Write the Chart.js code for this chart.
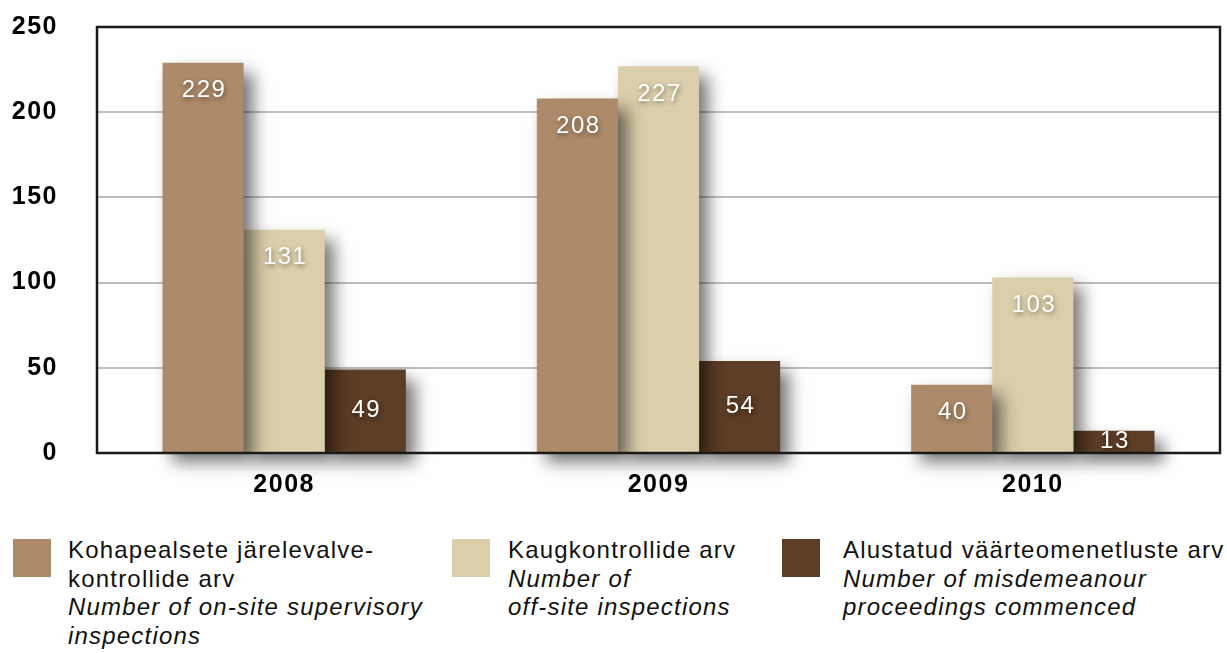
<!DOCTYPE html>
<html>
<head>
<meta charset="utf-8">
<script src="https://cdn.jsdelivr.net/npm/chart.js@4"></script>
<style>
  html, body { margin: 0; padding: 0; background: #fff; width: 1227px; height: 653px; overflow: hidden; }
  #wrap { position: absolute; left: 0; top: -27px; width: 1227px; height: 534px; }
  .leg { position: absolute; top: 536px; font-family: "Liberation Sans", Arial, sans-serif; font-size: 24px; letter-spacing: 1.2px; line-height: 28.5px; color: #111; white-space: nowrap; }
  .sw { position: absolute; top: 539px; width: 38px; height: 38px; }
  .leg i { font-style: italic; }
</style>
</head>
<body>
<div id="wrap"><canvas id="c" width="1227" height="534"></canvas></div>
<div id="legend"></div>
<script>
const categories = ["2008", "2009", "2010"];
const onSite = [229, 208, 40];
const offSite = [131, 227, 103];
const misdemeanour = [49, 54, 13];
const seriesEt = ["Kohapealsete järelevalve-<br>kontrollide arv", "Kaugkontrollide arv", "Alustatud väärteomenetluste arv"];
const seriesEn = ["Number of on-site supervisory<br>inspections", "Number of<br>off-site inspections", "Number of misdemeanour<br>proceedings commenced"];
const colors = ["#AD8A69", "#DBCEAA", "#5C3D25"];
const yTicks = [0, 50, 100, 150, 200, 250];

const spacingPlugin = {
  id: 'spacing',
  beforeDraw(chart) { chart.ctx.letterSpacing = '1.5px'; }
};

const shadowPlugin = {
  id: 'barShadow',
  beforeDatasetsDraw(chart) {
    const ctx = chart.ctx;
    ctx.save();
    ctx.shadowColor = 'rgba(0,0,0,0.55)';
    ctx.shadowBlur = 16;
    ctx.shadowOffsetX = 9;
    ctx.shadowOffsetY = 10;
  },
  afterDatasetsDraw(chart) {
    chart.ctx.restore();
  }
};

const framePlugin = {
  id: 'frame',
  afterDatasetsDraw(chart) {
    const {ctx, chartArea: a} = chart;
    ctx.save();
    ctx.strokeStyle = '#1a1a1a';
    ctx.lineWidth = 2.5;
    ctx.strokeRect(a.left, a.top, a.right - a.left, a.bottom - a.top);
    ctx.restore();
  }
};

const labelPlugin = {
  id: 'valueLabels',
  afterDraw(chart) {
    const ctx = chart.ctx;
    ctx.save();
    ctx.font = '24px "Liberation Sans", Arial, sans-serif';
    ctx.letterSpacing = '1.5px';
    ctx.fillStyle = '#ffffff';
    ctx.textAlign = 'center';
    ctx.textBaseline = 'middle';
    ctx.shadowColor = 'rgba(0,0,0,0.45)';
    ctx.shadowBlur = 5;
    ctx.shadowOffsetX = 1;
    ctx.shadowOffsetY = 2;
    chart.data.datasets.forEach((ds, di) => {
      const meta = chart.getDatasetMeta(di);
      meta.data.forEach((bar, i) => {
        const v = ds.data[i];
        let y;
        if (di === 2) y = (bar.y + bar.base) / 2;
        else y = bar.y + 28;
        ctx.fillText(String(v), bar.x + 1, y);
      });
    });
    ctx.restore();
  }
};

const chart = new Chart(document.getElementById('c'), {
  type: 'bar',
  data: {
    labels: categories,
    datasets: [
      { label: 'on-site', data: onSite, backgroundColor: colors[0], clip: false },
      { label: 'off-site', data: offSite, backgroundColor: colors[1], clip: false },
      { label: 'misdemeanour', data: misdemeanour, backgroundColor: colors[2], clip: false }
    ]
  },
  options: {
    responsive: false,
    animation: false,
    devicePixelRatio: 1,
    layout: { padding: { top: 0, right: 7, left: 0, bottom: 0 } },
    datasets: { bar: { categoryPercentage: 0.65, barPercentage: 1.0 } },
    plugins: { legend: { display: false }, tooltip: { enabled: false } },
    scales: {
      x: {
        grid: { display: false, drawTicks: false },
        border: { display: false },
        ticks: { color: '#000', padding: 17, font: { family: '"Liberation Sans", Arial, sans-serif', size: 25, weight: 'bold' } },
        afterFit(s) { s.height = 48; }
      },
      y: {
        min: 0, max: 250,
        afterBuildTicks(s) { s.ticks = yTicks.map(v => ({ value: v })); },
        grid: { color: '#c0c0c0', lineWidth: 2, drawTicks: false },
        border: { display: false },
        ticks: { color: '#000', padding: 39, font: { family: '"Liberation Sans", Arial, sans-serif', size: 25, weight: 'bold' } },
        afterFit(s) { s.width = 97; }
      }
    }
  },
  plugins: [spacingPlugin, shadowPlugin, framePlugin, labelPlugin]
});

const legendEl = document.getElementById('legend');
const swX = [13, 452, 782];
const txX = [68, 508, 843];
for (let i = 0; i < 3; i++) {
  const sw = document.createElement('div');
  sw.className = 'sw';
  sw.style.left = swX[i] + 'px';
  sw.style.background = colors[i];
  legendEl.appendChild(sw);
  const t = document.createElement('div');
  t.className = 'leg';
  t.style.left = txX[i] + 'px';
  t.innerHTML = seriesEt[i] + '<br><i>' + seriesEn[i] + '</i>';
  legendEl.appendChild(t);
}
</script>
</body>
</html>
